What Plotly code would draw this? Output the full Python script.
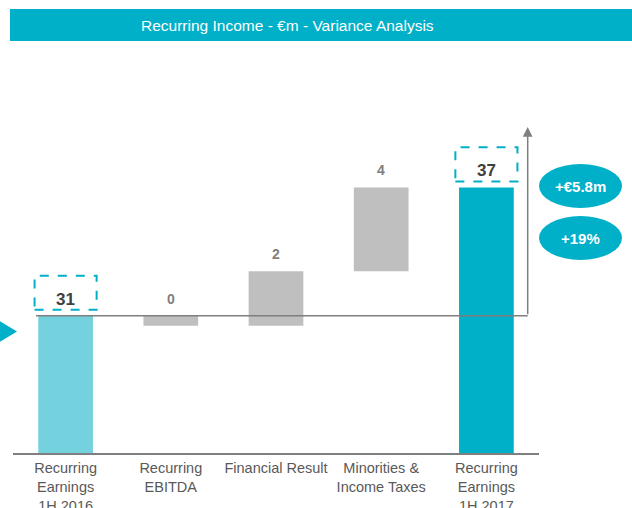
import plotly.graph_objects as go

# ---------------- data ----------------
categories = ["Recurring<br>Earnings<br>1H 2016", "Recurring<br>EBITDA", "Financial Result",
              "Minorities &<br>Income Taxes", "Recurring<br>Earnings<br>1H 2017"]
measures = ["total", "relative", "relative", "relative", "total"]
values = [31.2, -0.45, 2.46, 3.79, 37.0]
value_labels = ["31", "0", "2", "4", "37"]
bar_colors = ["#74D1DE", "#BFBFBF", "#BFBFBF", "#BFBFBF", "#00AFC8"]
title_text = "Recurring Income - €m - Variance Analysis"
badges = ["+€5.8m", "+19%"]

# ---------------- geometry helpers ----------------
W_FIG, H_FIG = 632, 508
ML, MR, MT, MB = 13, 93, 121, 55
PW, PH = W_FIG - ML - MR, H_FIG - MT - MB
X0, X1 = -0.5, len(categories) - 0.5
Y0, Y1 = 25, 40

def xp(px):
    return (px - ML) / PW

def yp(py):
    return (H_FIG - MB - py) / PH

def xd(px):
    return X0 + (px - ML) / PW * (X1 - X0)

def yd(py):
    return Y0 + (H_FIG - MB - py) / PH * (Y1 - Y0)

TEAL = "#00AFC8"
FONT = "Liberation Sans, Arial, sans-serif"

# waterfall bases
bases, heights, tops = [], [], []
running = 0.0
for m, v in zip(measures, values):
    if m == "total":
        bases.append(0)
        heights.append(v)
        running = v
        tops.append(v)
    else:
        bases.append(running)
        heights.append(v)
        tops.append(max(running, running + v))
        running += v

x_idx = list(range(len(categories)))

fig = go.Figure()
fig.add_trace(go.Bar(
    x=x_idx, y=heights, base=bases,
    marker=dict(color=bar_colors, line=dict(width=0)),
    width=0.52, hoverinfo="skip", showlegend=False,
))

shapes = []
annotations = []

# title banner
shapes.append(dict(type="rect", xref="paper", yref="paper",
                   x0=xp(10), x1=xp(640), y0=yp(41), y1=yp(9),
                   fillcolor=TEAL, line=dict(width=0), layer="above"))
annotations.append(dict(xref="paper", yref="paper", x=xp(287), y=yp(25.5),
                        text=title_text, showarrow=False,
                        xanchor="center", yanchor="middle",
                        font=dict(family=FONT, size=15.5, color="white")))

# connector baseline + arrow
start_val = values[0]
shapes.append(dict(type="line", xref="x", yref="y",
                   x0=xd(36), x1=xd(527.7), y0=start_val, y1=start_val,
                   line=dict(color="#7F7F7F", width=1.5), layer="above"))
annotations.append(dict(xref="x", yref="y", x=xd(527.7), y=yd(127),
                        axref="x", ayref="y", ax=xd(527.7), ay=start_val,
                        text="", showarrow=True, arrowhead=2, arrowsize=1.3,
                        arrowwidth=1.5, arrowcolor="#7F7F7F", standoff=0))

# value labels
for i, (m, t, lab) in enumerate(zip(measures, tops, value_labels)):
    if m == "total":
        shapes.append(dict(type="rect", xref="x", yref="y",
                           x0=i - 0.295, x1=i + 0.295, y0=t + 0.27, y1=t + 1.81,
                           line=dict(color=TEAL, width=2, dash="dash"),
                           fillcolor="rgba(0,0,0,0)", layer="above"))
        annotations.append(dict(xref="x", yref="y", x=i, y=t, text=f"<b>{lab}</b>",
                                showarrow=False, xanchor="center", yanchor="bottom",
                                yshift=5, font=dict(family=FONT, size=17, color="#404040")))
    else:
        annotations.append(dict(xref="x", yref="y", x=i, y=t, text=f"<b>{lab}</b>",
                                showarrow=False, xanchor="center", yanchor="bottom",
                                yshift=7, font=dict(family=FONT, size=14, color="#7F7F7F")))

# badges (ellipses)
badge_y = [(164, 208), (216, 260)]
for txt, (ya, yb) in zip(badges, badge_y):
    shapes.append(dict(type="circle", xref="paper", yref="paper",
                       x0=xp(539), x1=xp(622), y0=yp(yb), y1=yp(ya),
                       fillcolor=TEAL, line=dict(width=0), layer="above"))
    annotations.append(dict(xref="paper", yref="paper", x=xp(580.5), y=yp((ya + yb) / 2),
                            text=f"<b>{txt}</b>", showarrow=False,
                            xanchor="center", yanchor="middle",
                            font=dict(family=FONT, size=15, color="white")))

# left pointer triangle
shapes.append(dict(type="path", xref="paper", yref="paper",
                   path=f"M {xp(-2)},{yp(320)} L {xp(17)},{yp(331.5)} L {xp(-2)},{yp(343)} Z",
                   fillcolor=TEAL, line=dict(width=0), layer="above"))

fig.update_layout(
    width=W_FIG, height=H_FIG,
    margin=dict(l=ML, r=MR, t=MT, b=MB, pad=0, autoexpand=False),
    paper_bgcolor="white", plot_bgcolor="white",
    shapes=shapes, annotations=annotations,
    bargap=0.48,
    xaxis=dict(range=[X0, X1], tickmode="array", tickvals=x_idx, ticktext=categories,
               showline=True, linecolor="#7F7F7F", linewidth=2, ticks="",
               ticklabelstandoff=1,
               showgrid=False, zeroline=False, automargin=False,
               tickfont=dict(family=FONT, size=14.5, color="#595959"), fixedrange=True),
    yaxis=dict(range=[Y0, Y1], visible=False, showgrid=False, zeroline=False,
               automargin=False, fixedrange=True),
    font=dict(family=FONT),
)

fig.write_html("out.html", config={"displayModeBar": False},
               post_script="document.body.style.margin='0';document.body.style.overflow='hidden';")
